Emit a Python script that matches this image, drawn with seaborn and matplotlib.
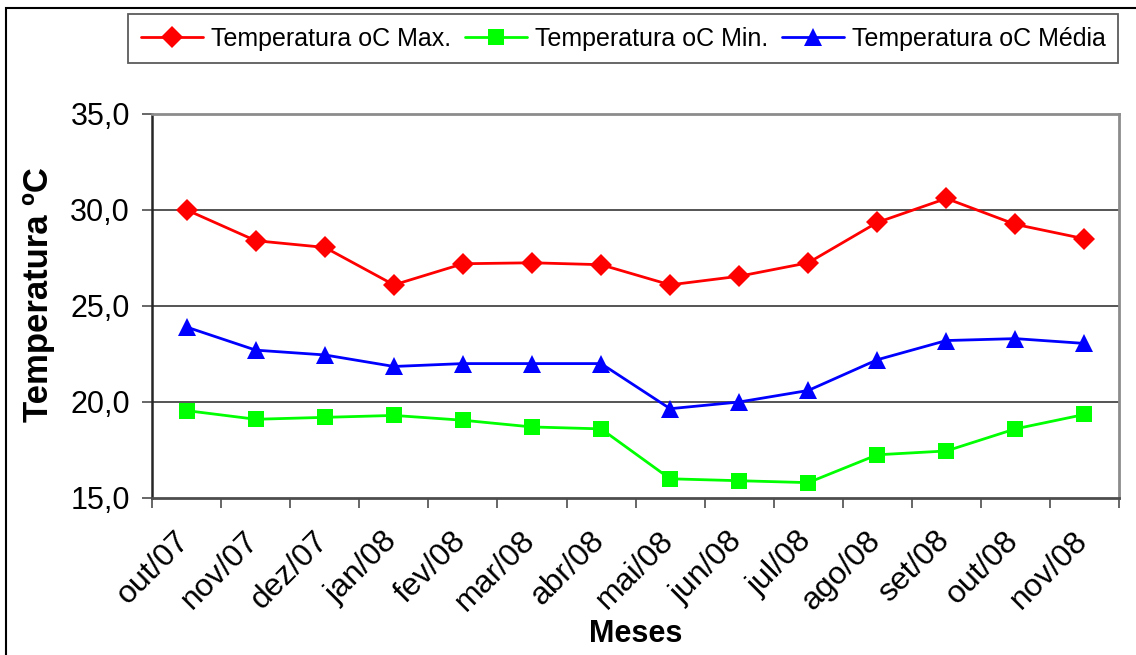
import numpy as np
import pandas as pd
import seaborn as sns
import matplotlib.pyplot as plt
import matplotlib.transforms as mtransforms
from matplotlib.patches import Rectangle

sns.set_style("white")
plt.rcParams["font.family"] = ["Liberation Sans", "DejaVu Sans"]
plt.rcParams.update({"text.color": "black", "axes.labelcolor": "black",
                     "xtick.color": "black", "ytick.color": "black"})

# data

meses = ["out/07", "nov/07", "dez/07", "jan/08", "fev/08", "mar/08", "abr/08",
         "mai/08", "jun/08", "jul/08", "ago/08", "set/08", "out/08", "nov/08"]
t_max = [30.0, 28.4, 28.05, 26.1, 27.2, 27.25, 27.15, 26.1, 26.55, 27.25, 29.35, 30.6, 29.25, 28.5]
t_min = [19.55, 19.1, 19.2, 19.3, 19.05, 18.7, 18.6, 16.0, 15.9, 15.8, 17.25, 17.45, 18.6, 19.35]
t_med = [23.9, 22.7, 22.45, 21.85, 22.0, 22.0, 22.0, 19.65, 20.0, 20.6, 22.2, 23.2, 23.3, 23.05]
series = ["Temperatura oC Max.", "Temperatura oC Min.", "Temperatura oC Média"]
y_ticks = [15, 20, 25, 30, 35]
y_labels = ["15,0", "20,0", "25,0", "30,0", "35,0"]

df = pd.DataFrame({"pos": list(range(len(meses))) * 3,
                   "temp": t_max + t_min + t_med,
                   "serie": np.repeat(series, len(meses))})

cores = {series[0]: "#ff0000", series[1]: "#00ff00", series[2]: "#0000ff"}
marcas = {series[0]: ("D", 11), series[1]: ("s", 11), series[2]: ("^", 13)}

fig = plt.figure(figsize=(11.36, 6.55), dpi=100)
ax = fig.add_axes([0.134, 0.2397, 0.851, 0.5863])

for s in series:
    m, ms = marcas[s]
    sns.lineplot(data=df[df.serie == s], x="pos", y="temp", color=cores[s], marker=m,
                 markersize=ms, markeredgewidth=0, linewidth=2, label=s, ax=ax)

# grid lines like excel
for g in [20, 25, 30]:
    ax.axhline(g, color="0.15", linewidth=1.1, zorder=0)

ax.set_ylim(15, 35)
ax.set_xlim(-0.5, len(meses) - 0.5)
ax.set_yticks(y_ticks)
ax.set_yticklabels(y_labels, fontsize=22)
ax.set_xticks(np.arange(-0.5, len(meses)), minor=False)
ax.set_xticklabels([])
ax.set_xticks(np.arange(len(meses)), minor=True)
ax.set_xticklabels(meses, minor=True, fontsize=23, rotation=45, ha="right",
                   rotation_mode="anchor")
ax.tick_params(axis="x", which="major", direction="out", length=7, width=1.2, color="0.3", bottom=True)
ax.tick_params(axis="x", which="minor", length=0, pad=20)
ax.tick_params(axis="y", direction="out", length=7, width=1.2, color="0.3", left=True, pad=9)

# shift month labels a bit to the left
shift = mtransforms.ScaledTranslation(-12 / 100, 0, fig.dpi_scale_trans)
for lab in ax.get_xticklabels(minor=True):
    lab.set_transform(lab.get_transform() + shift)

for side in ["top", "right"]:
    ax.spines[side].set_color("0.55")
    ax.spines[side].set_linewidth(2)
ax.spines["bottom"].set_color("0.3")
ax.spines["bottom"].set_linewidth(2)
ax.spines["left"].set_color("0.15")
ax.spines["left"].set_linewidth(1.8)

ax.set_xlabel("Meses", fontsize=22, fontweight="bold", labelpad=1)
ax.set_ylabel("Temperatura ºC", fontsize=25, fontweight="bold")
ax.yaxis.set_label_coords(-0.101, 0.53)

ax.get_legend().remove()
h, l = ax.get_legend_handles_labels()
leg = fig.legend(h, l, ncol=3, loc="upper left", bbox_to_anchor=(0.113, 0.978),
                 fontsize=18, frameon=True, fancybox=False, edgecolor="0.2",
                 handlelength=2.5, handletextpad=0.3, columnspacing=0.55,
                 borderpad=0.5, borderaxespad=0)
leg.get_frame().set_linewidth(1.3)

# outer chart border
fig.patches.append(Rectangle((6 / 1136, -0.1), 1.2, (655 - 8) / 655 + 0.1, transform=fig.transFigure,
                             fill=False, edgecolor="black", linewidth=1.5))

fig.savefig("out.png", dpi=100)
plt.close()
